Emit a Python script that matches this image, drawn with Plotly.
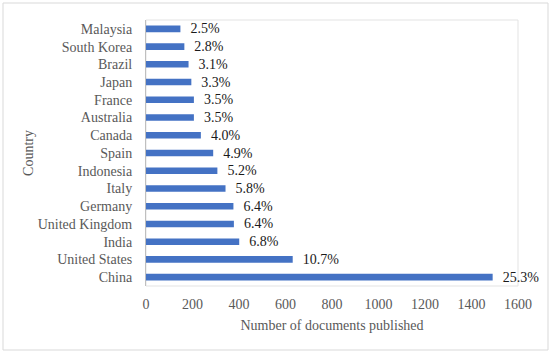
import plotly.graph_objects as go

countries = ["China", "United States", "India", "United Kingdom", "Germany", "Italy",
             "Indonesia", "Spain", "Canada", "Australia", "France", "Japan", "Brazil",
             "South Korea", "Malaysia"]
documents = [1491, 631, 401, 378, 376, 342, 307, 289, 236, 206, 206, 195, 183, 165, 148]
shares = ["25.3%", "10.7%", "6.8%", "6.4%", "6.4%", "5.8%", "5.2%", "4.9%", "4.0%",
          "3.5%", "3.5%", "3.3%", "3.1%", "2.8%", "2.5%"]
x_ticks = [0, 200, 400, 600, 800, 1000, 1200, 1400, 1600]

FONT = "Liberation Serif"
FS = 14
L, R, T, B = 146, 32, 20, 68
W, H = 550, 354
pw, ph = W - L - R, H - T - B

fig = go.Figure(go.Bar(
    x=documents, y=countries, orientation="h",
    marker=dict(color="#4472C4", line=dict(width=0)),
    text=["  " + s for s in shares], textposition="outside",
    constraintext="none",
    textfont=dict(family=FONT, size=FS, color="#1a1a1a"),
    cliponaxis=False,
))

fig.update_layout(
    width=W, height=H,
    margin=dict(l=L, r=R, t=T, b=B, autoexpand=False),
    paper_bgcolor="white", plot_bgcolor="white",
    bargap=0.63, showlegend=False,
    font=dict(family=FONT, size=FS, color="#595959"),
    xaxis=dict(range=[0, 1600], tickvals=x_ticks, showgrid=False, zeroline=False,
               showline=False, ticks="", automargin=False, ticklabelstandoff=8,
               tickfont=dict(size=FS, color="#595959"),
               title=dict(text="Number of documents published", standoff=9,
                          font=dict(size=FS, color="#595959"))),
    yaxis=dict(showgrid=False, zeroline=False, automargin=False,
               showline=True, linecolor="#bfbfbf", linewidth=1, ticks="",
               ticklabelstandoff=10,
               tickfont=dict(size=FS, color="#595959"),
               title=dict(text="Country", standoff=0,
                          font=dict(size=FS, color="#595959"))),
    shapes=[
        dict(type="rect", xref="paper", yref="paper", x0=0, x1=1, y0=0, y1=1,
             line=dict(color="#e3e3e3", width=1), layer="below"),
        dict(type="rect", xref="paper", yref="paper",
             x0=(3 - L) / pw, x1=(548 - L) / pw,
             y0=(H - B - 350) / ph, y1=(H - B - 3) / ph,
             line=dict(color="#d9d9d9", width=1), layer="below"),
    ],
)

fig.write_html("out.html", config={"displayModeBar": False},
               post_script="document.body.style.margin='0';document.body.style.padding='0';")
